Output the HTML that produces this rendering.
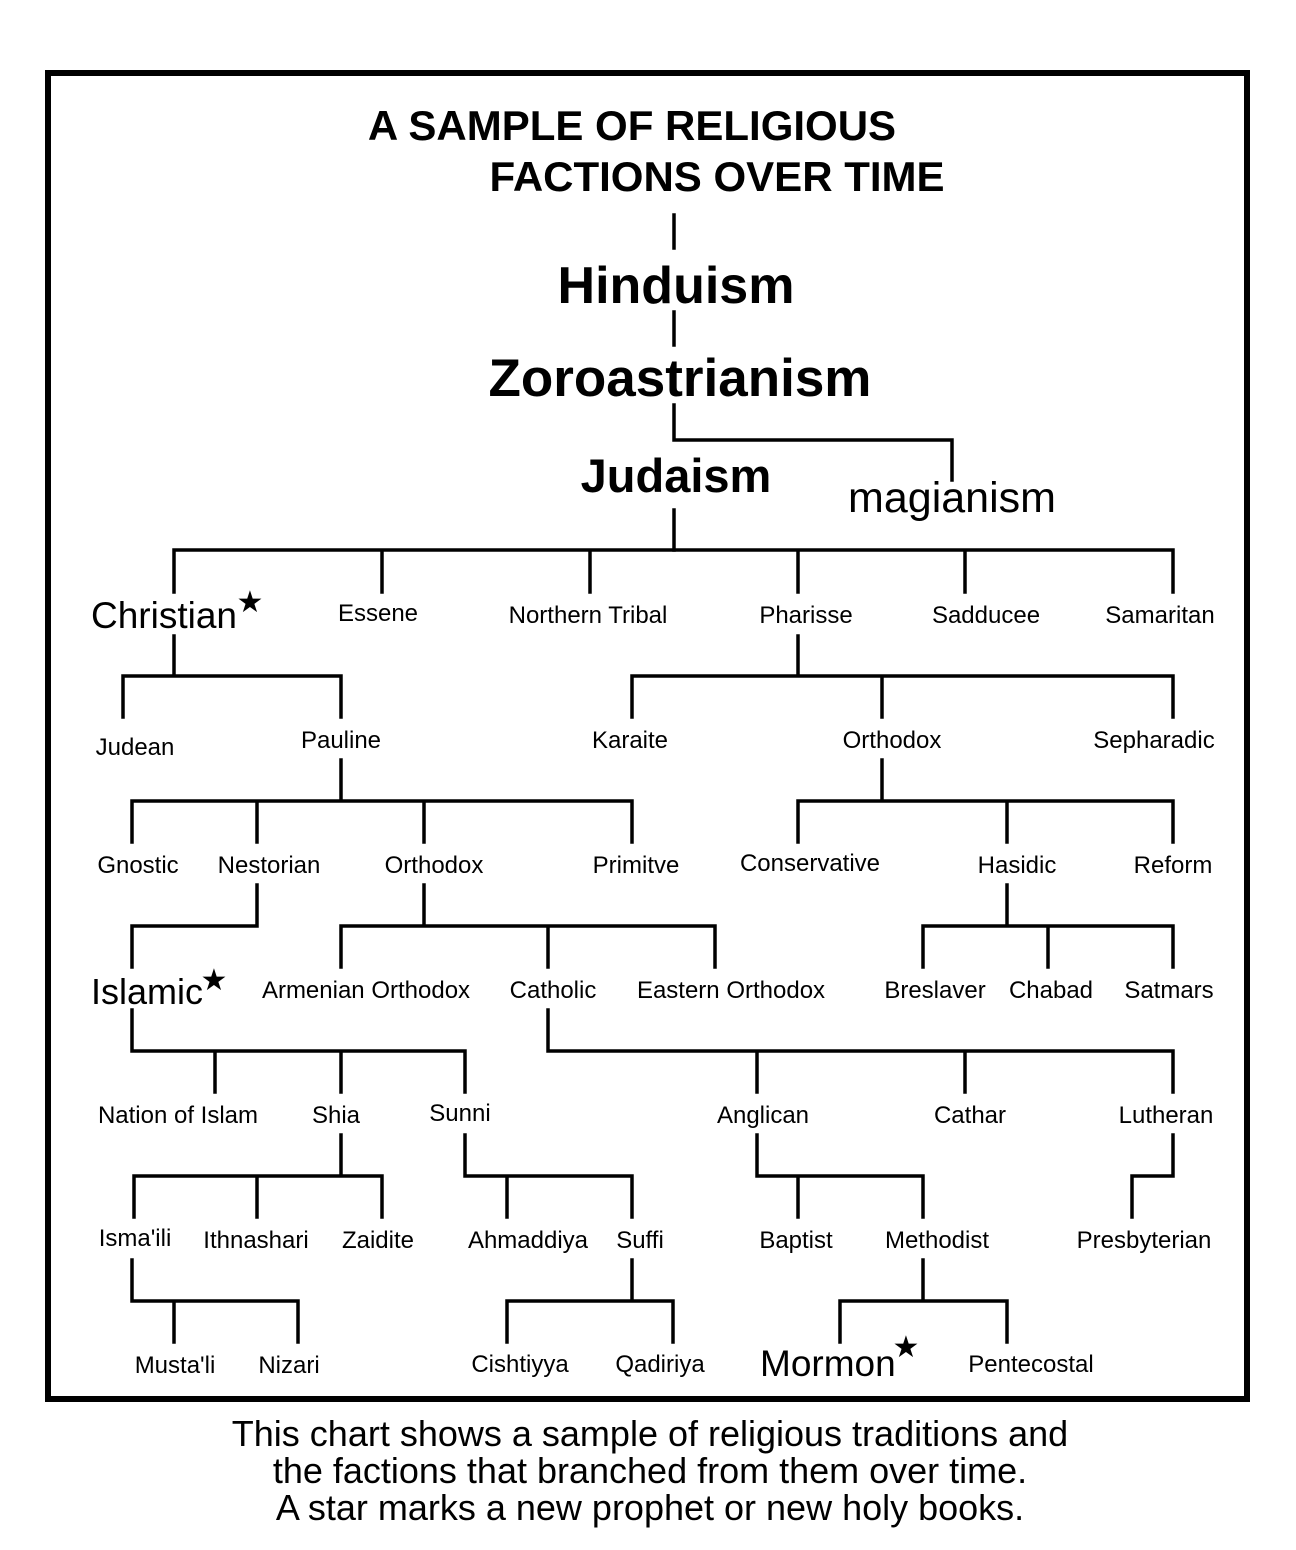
<!DOCTYPE html>
<html><head><meta charset="utf-8"><style>
html,body{margin:0;padding:0;background:#fff;}
svg{display:block;}
text{font-family:"Liberation Sans",Arial,sans-serif;fill:#000;}
</style></head><body>
<svg width="1296" height="1550" viewBox="0 0 1296 1550" xmlns="http://www.w3.org/2000/svg">
<rect x="48" y="73" width="1199" height="1326" fill="none" stroke="#000" stroke-width="6"/>
<g stroke="#000" stroke-width="3.5" fill="none" stroke-linecap="square">
<path d="M674 215V248M674 312V345M674 405V440H952V480M674 510V550"/>
<path d="M174 550H1173M174 550V592M382 550V592M590 550V592M798 550V592M965 550V592M1173 550V592"/>
<path d="M174 636V676M123 676H341M123 676V717M341 676V717"/>
<path d="M798 636V676M632 676H1173M632 676V717M882 676V717M1173 676V717"/>
<path d="M341 760V801M132 801H632M132 801V842M257 801V842M424 801V842M632 801V842"/>
<path d="M882 760V801M798 801H1173M798 801V842M1007 801V842M1173 801V842"/>
<path d="M257 885V926H132V967"/>
<path d="M424 885V926M341 926H715M341 926V967M548 926V967M715 926V967"/>
<path d="M1007 885V926M923 926H1173M923 926V967M1048 926V967M1173 926V967"/>
<path d="M132 1010V1051H465M215 1051V1092M341 1051V1092M465 1051V1092"/>
<path d="M548 1010V1051H1173M757 1051V1092M965 1051V1092M1173 1051V1092"/>
<path d="M341 1135V1176M134 1176H382M134 1176V1217M257 1176V1217M382 1176V1217"/>
<path d="M465 1135V1176H632M507 1176V1217M632 1176V1217"/>
<path d="M757 1135V1176H923M798 1176V1217M923 1176V1217"/>
<path d="M1173 1135V1176H1132V1217"/>
<path d="M132 1260V1301H298M174 1301V1342M298 1301V1342"/>
<path d="M632 1260V1301M507 1301H673M507 1301V1342M673 1301V1342"/>
<path d="M923 1260V1301M840 1301H1007M840 1301V1342M1007 1301V1342"/>
</g>
<g font-weight="bold" text-anchor="middle">
<text x="632" y="140" font-size="42">A SAMPLE OF RELIGIOUS</text>
<text x="717" y="191" font-size="42">FACTIONS OVER TIME</text>
<text x="676" y="303" font-size="52">Hinduism</text>
<text x="680" y="396" font-size="53">Zoroastrianism</text>
<text x="676" y="492" font-size="47">Judaism</text>
</g>
<text x="952" y="512" font-size="43" text-anchor="middle">magianism</text>
<g font-size="24" text-anchor="middle">
<text x="378" y="621">Essene</text>
<text x="588" y="623">Northern Tribal</text>
<text x="806" y="623">Pharisse</text>
<text x="986" y="623">Sadducee</text>
<text x="1160" y="623">Samaritan</text>
<text x="135" y="755">Judean</text>
<text x="341" y="748">Pauline</text>
<text x="630" y="748">Karaite</text>
<text x="892" y="748">Orthodox</text>
<text x="1154" y="748">Sepharadic</text>
<text x="138" y="873">Gnostic</text>
<text x="269" y="873">Nestorian</text>
<text x="434" y="873">Orthodox</text>
<text x="636" y="873">Primitve</text>
<text x="810" y="871">Conservative</text>
<text x="1017" y="873">Hasidic</text>
<text x="1173" y="873">Reform</text>
<text x="366" y="998">Armenian Orthodox</text>
<text x="553" y="998">Catholic</text>
<text x="731" y="998">Eastern Orthodox</text>
<text x="935" y="998">Breslaver</text>
<text x="1051" y="998">Chabad</text>
<text x="1169" y="998">Satmars</text>
<text x="178" y="1123">Nation of Islam</text>
<text x="336" y="1123">Shia</text>
<text x="460" y="1121">Sunni</text>
<text x="763" y="1123">Anglican</text>
<text x="970" y="1123">Cathar</text>
<text x="1166" y="1123">Lutheran</text>
<text x="135" y="1246">Isma'ili</text>
<text x="256" y="1248">Ithnashari</text>
<text x="378" y="1248">Zaidite</text>
<text x="528" y="1248">Ahmaddiya</text>
<text x="640" y="1248">Suffi</text>
<text x="796" y="1248">Baptist</text>
<text x="937" y="1248">Methodist</text>
<text x="1144" y="1248">Presbyterian</text>
<text x="175" y="1373">Musta'li</text>
<text x="289" y="1373">Nizari</text>
<text x="520" y="1372">Cishtiyya</text>
<text x="660" y="1372">Qadiriya</text>
<text x="1031" y="1372">Pentecostal</text>
</g>
<text x="91" y="628" font-size="37">Christian</text>
<text x="250" y="612" font-size="30" text-anchor="middle">★</text>
<text x="91" y="1004" font-size="36">Islamic</text>
<text x="214" y="990" font-size="30" text-anchor="middle">★</text>
<text x="760" y="1376" font-size="37">Mormon</text>
<text x="906" y="1357" font-size="30" text-anchor="middle">★</text>
<g font-size="36" text-anchor="middle">
<text x="650" y="1446">This chart shows a sample of religious traditions and</text>
<text x="650" y="1483">the factions that branched from them over time.</text>
<text x="650" y="1520">A star marks a new prophet or new holy books.</text>
</g>
</svg>
</body></html>
